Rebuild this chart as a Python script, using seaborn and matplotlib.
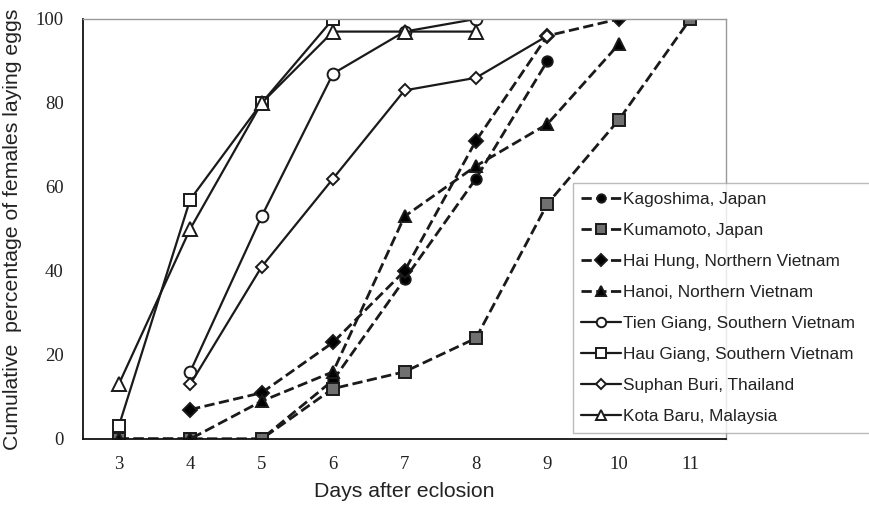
import matplotlib
matplotlib.use('Agg')
import matplotlib.pyplot as plt
import seaborn as sns
import numpy as np

# Dados (dias após a eclosão x % acumulada)
kagoshima_x = [3, 4, 5, 6, 7, 8, 9]
kagoshima_y = [0, 0, 0, 14, 38, 62, 90]
kumamoto_x = [3, 4, 5, 6, 7, 8, 9, 10, 11]
kumamoto_y = [0, 0, 0, 12, 16, 24, 56, 76, 100]
haihung_x = [4, 5, 6, 7, 8, 9, 10]
haihung_y = [7, 11, 23, 40, 71, 96, 100]
hanoi_x = [3, 4, 5, 6, 7, 8, 9, 10]
hanoi_y = [0, 0, 9, 16, 53, 65, 75, 94]
tiengiang_x = [4, 5, 6, 7, 8]
tiengiang_y = [16, 53, 87, 97, 100]
haugiang_x = [3, 4, 5, 6]
haugiang_y = [3, 57, 80, 100]
suphan_x = [4, 5, 6, 7, 8, 9]
suphan_y = [13, 41, 62, 83, 86, 96]
kotabaru_x = [3, 4, 5, 6, 7, 8]
kotabaru_y = [13, 50, 80, 97, 97, 97]

days = [3, 4, 5, 6, 7, 8, 9, 10, 11]

series = [
    ('Kagoshima, Japan', kagoshima_x, kagoshima_y, '--', 'o', 'black', 7.5),
    ('Kumamoto, Japan', kumamoto_x, kumamoto_y, '--', 's', '#707070', 8.5),
    ('Hai Hung, Northern Vietnam', haihung_x, haihung_y, '--', 'D', 'black', 7.5),
    ('Hanoi, Northern Vietnam', hanoi_x, hanoi_y, '--', '^', 'black', 8.5),
    ('Tien Giang, Southern Vietnam', tiengiang_x, tiengiang_y, '-', 'o', 'white', 8.5),
    ('Hau Giang, Southern Vietnam', haugiang_x, haugiang_y, '-', 's', 'white', 8.5),
    ('Suphan Buri, Thailand', suphan_x, suphan_y, '-', 'D', 'white', 6),
    ('Kota Baru, Malaysia', kotabaru_x, kotabaru_y, '-', '^', 'white', 9.5),
]

sns.set_style('white')
plt.rcParams['font.family'] = ['Liberation Sans', 'DejaVu Sans']

fig = plt.figure(figsize=(8.69, 5.05), dpi=100)
ax = fig.add_axes([0.0955, 0.1307, 0.74, 0.8317])

for nome, xs, ys, ls, mk, cor, ms in series:
    sns.lineplot(x=xs, y=ys, ax=ax, color='#1a1a1a', linestyle=ls,
                 linewidth=2.0 if ls == '--' else 1.6,
                 marker=mk, markersize=ms, markerfacecolor=cor,
                 markeredgecolor='#1a1a1a', markeredgewidth=1.4,
                 label=nome)

# Formatação dos eixos
ax.set_xlim(2.5, 11.5)
ax.set_ylim(0, 100)
ax.set_xticks(days)
ax.set_xticks(np.arange(2.5, 12, 1.0), minor=True)
ax.set_yticks([0, 20, 40, 60, 80, 100])
ax.tick_params(axis='x', which='major', length=0, pad=12)
ax.tick_params(axis='x', which='minor', direction='in', length=5, width=0.8, color='#444444')
ax.tick_params(axis='y', direction='in', length=3, width=0.6, color='#999999', pad=14)
for lab in ax.get_xticklabels() + ax.get_yticklabels():
    lab.set_family('Liberation Serif')
    lab.set_fontsize(13.5)
    lab.set_color('#222222')

for s in ['top', 'right']:
    ax.spines[s].set_color('#999999')
    ax.spines[s].set_linewidth(1.0)
for s in ['left', 'bottom']:
    ax.spines[s].set_color('#111111')
    ax.spines[s].set_linewidth(1.3)

ax.set_xlabel('Days after eclosion', fontsize=15.3, color='#222222', labelpad=7)
ax.set_ylabel('Cumulative  percentage of females laying eggs', fontsize=15.3,
              color='#222222', labelpad=10)

leg = ax.legend(loc='lower left', bbox_to_anchor=(0.659, 0.1426, 0.36, 0.485),
                bbox_transform=fig.transFigure, mode='expand', borderaxespad=0,
                fontsize=12.4, frameon=True, fancybox=False, handlelength=2.3,
                handletextpad=0.15, labelspacing=0.93, borderpad=0.5,
                markerscale=0.8)
leg.get_frame().set_edgecolor('#aaaaaa')
leg.get_frame().set_linewidth(1.0)
for t in leg.get_texts():
    t.set_color('#222222')

plt.savefig('out.png', dpi=100)
plt.close()
